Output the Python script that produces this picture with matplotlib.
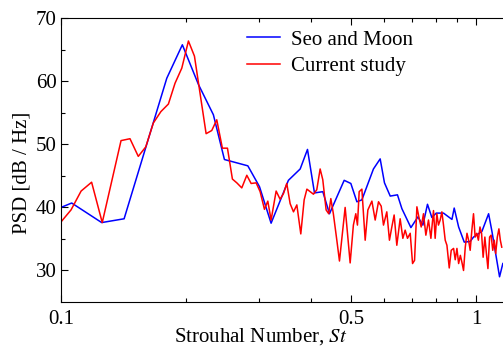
import matplotlib
matplotlib.use("Agg")
import matplotlib.pyplot as plt
from matplotlib.ticker import FixedLocator, FixedFormatter, NullFormatter

# ------ data ------
seo_st = [0.1000, 0.1061, 0.1253, 0.1419, 0.1798, 0.1960, 0.2143, 0.2328, 0.2475,
          0.2818, 0.3006, 0.3206, 0.3529, 0.3767, 0.3923, 0.4078, 0.4271, 0.4432,
          0.4808, 0.4989, 0.5159, 0.5304, 0.5655, 0.5870, 0.6012, 0.6207, 0.6461,
          0.6622, 0.6961, 0.7237, 0.7440, 0.7631, 0.7819, 0.8010, 0.8340, 0.8740,
          0.8850, 0.9070, 0.9357, 0.9670, 0.9850, 1.0320, 1.0710, 1.0910, 1.1380,
          1.1590]
seo_psd = [40.0, 40.7, 37.6, 38.2, 60.5, 65.8, 59.5, 54.7, 47.6,
           46.6, 43.3, 37.5, 44.3, 46.1, 49.2, 42.3, 42.5, 39.0,
           44.3, 43.8, 40.9, 41.2, 46.1, 47.7, 43.9, 41.8, 42.0,
           39.8, 36.8, 38.5, 37.2, 40.5, 38.4, 39.1, 39.1, 38.1,
           39.9, 36.9, 34.5, 34.6, 35.3, 36.2, 39.0, 36.2, 29.0,
           31.1]

cur_st = [0.1000, 0.1057, 0.1118, 0.1185, 0.1257, 0.1395, 0.1466, 0.1535, 0.1600,
          0.1669, 0.1740, 0.1814, 0.1882, 0.1954, 0.2027, 0.2096, 0.2236, 0.2307,
          0.2372, 0.2447, 0.2517, 0.2587, 0.2651, 0.2725, 0.2802, 0.2870, 0.2951,
          0.3017, 0.3090, 0.3148, 0.3206, 0.3297, 0.3370, 0.3434, 0.3497, 0.3563,
          0.3630, 0.3698, 0.3780, 0.3851, 0.3910, 0.4055, 0.4130, 0.4208, 0.4270,
          0.4350, 0.4413, 0.4465, 0.4528, 0.4616, 0.4684, 0.4834, 0.4970, 0.5060,
          0.5128, 0.5175, 0.5225, 0.5304, 0.5402, 0.5483, 0.5607, 0.5710, 0.5816,
          0.5904, 0.5979, 0.6090, 0.6180, 0.6262, 0.6343, 0.6438, 0.6558, 0.6657,
          0.6743, 0.6830, 0.6934, 0.7025, 0.7103, 0.7196, 0.7290, 0.7370, 0.7464,
          0.7563, 0.7674, 0.7777, 0.7890, 0.7963, 0.8038, 0.8110, 0.8188, 0.8265,
          0.8340, 0.8420, 0.8500, 0.8610, 0.8705, 0.8820, 0.8900, 0.8985, 0.9070,
          0.9157, 0.9250, 0.9320, 0.9410, 0.9500, 0.9585, 0.9670, 0.9760, 0.9850,
          0.9940, 1.0030, 1.0120, 1.0210, 1.0300, 1.0390, 1.0490, 1.0580, 1.0670,
          1.0770, 1.0860, 1.0960, 1.1050, 1.1140, 1.1240, 1.1340, 1.1430, 1.1520]
cur_psd = [37.7, 39.6, 42.6, 44.0, 37.6, 50.6, 50.9, 48.1, 49.6,
           53.4, 55.2, 56.4, 59.7, 62.1, 66.4, 64.0, 51.7, 52.2,
           53.9, 49.4, 49.4, 44.5, 43.9, 43.1, 45.1, 43.8, 43.9,
           42.5, 39.7, 41.0, 38.0, 42.6, 41.3, 42.2, 43.8, 40.6,
           39.3, 40.4, 35.8, 41.2, 42.9, 42.1, 42.8, 46.1, 44.4,
           39.6, 39.0, 41.4, 39.0, 34.8, 31.5, 40.0, 31.2, 37.2,
           39.0, 37.2, 42.5, 42.9, 34.8, 39.6, 41.0, 38.0, 40.9,
           40.2, 37.2, 39.3, 34.8, 36.9, 38.8, 34.0, 38.2, 35.1,
           36.4, 35.1, 35.9, 31.1, 31.6, 40.1, 38.2, 36.9, 39.0,
           35.6, 38.0, 35.1, 39.5, 35.1, 39.0, 37.2, 38.0, 39.3,
           37.2, 34.8, 34.0, 30.4, 33.2, 33.5, 31.7, 33.5, 31.1,
           32.4, 31.1, 30.0, 33.7, 35.9, 34.8, 33.2, 36.4, 39.0,
           35.3, 35.9, 34.8, 36.9, 35.9, 32.1, 35.3, 32.7, 30.3,
           35.3, 35.6, 33.2, 34.8, 32.7, 35.3, 36.6, 34.8, 33.7]

x_major = [0.1, 0.5, 1]
x_major_labels = ['0.1', '0.5', '1']
x_minor = [0.2, 0.3, 0.4, 0.6, 0.7, 0.8, 0.9]
y_major = [30, 40, 50, 60, 70]
y_minor = [35, 45, 55, 65]

plt.rcParams['font.family'] = ['Liberation Serif', 'DejaVu Serif']
plt.rcParams['mathtext.fontset'] = 'stix'
fs = 15

fig = plt.figure(figsize=(5.03, 3.49), dpi=100)
ax = fig.add_axes([61/503, 1 - 302/349, 442/503, (302 - 18.3)/349])

ax.plot(seo_st, seo_psd, '-', color='#0000ff', lw=1.1, label='Seo and Moon')
ax.plot(cur_st, cur_psd, '-', color='#ff0000', lw=1.1, label='Current study')

ax.set_xscale('log')
ax.set_xlim(0.1, 1.16)
ax.set_ylim(25, 70)

ax.xaxis.set_major_locator(FixedLocator(x_major))
ax.xaxis.set_major_formatter(FixedFormatter(x_major_labels))
ax.xaxis.set_minor_locator(FixedLocator(x_minor))
ax.xaxis.set_minor_formatter(NullFormatter())
ax.yaxis.set_major_locator(FixedLocator(y_major))
ax.yaxis.set_minor_locator(FixedLocator(y_minor))

ax.tick_params(which='both', direction='in', top=True, right=False, labelsize=fs)
ax.tick_params(axis='y', pad=3)
ax.tick_params(axis='x', pad=6)
ax.tick_params(which='major', length=5, width=0.8)
ax.tick_params(which='minor', length=3, width=0.8)
ax.spines['right'].set_visible(False)

ax.set_xlabel('Strouhal Number, $\\mathit{St}$', fontsize=fs)
ax.set_ylabel('PSD [dB / Hz]', fontsize=fs)
ax.xaxis.set_label_coords(200/442, -0.085)
ax.yaxis.set_label_coords(-29/442, (302 - 173)/283.7)

ax.legend(loc='upper left', bbox_to_anchor=(247/503, 1 - 30/349),
          bbox_transform=fig.transFigure, frameon=False, fontsize=fs,
          handlelength=1.6, handletextpad=0.5, labelspacing=0.35,
          borderpad=0, borderaxespad=0)

fig.savefig('out.png', dpi=100)
